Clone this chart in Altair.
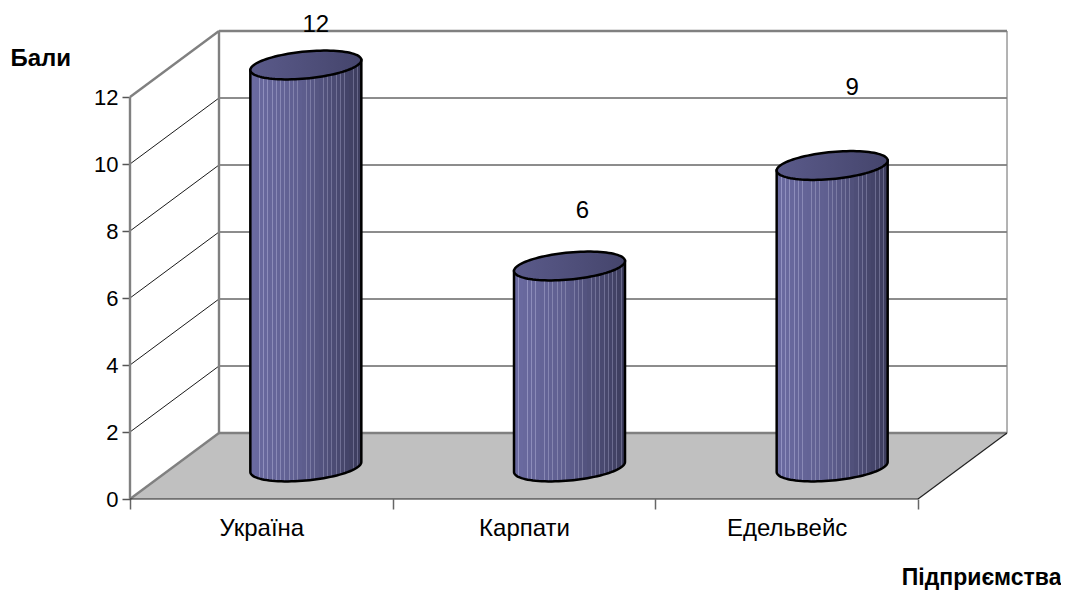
import json
import math
import altair as alt
import pandas as pd

categories = ["Україна", "Карпати", "Едельвейс"]
values = [12, 6, 9]
y_ticks = [0, 2, 4, 6, 8, 10, 12]
label_dx = [10, 13, 20]
label_dy = [-40, -55, -78]

PX_X = 262.67      # pixels per category
PX_Y = 33.5        # pixels per value unit
DX = 89 / PX_X     # depth offset in x units
DY = 66 / PX_Y     # depth offset in y units
N = len(categories)
W = 879
H = 469
FONT = "Liberation Sans"

x_scale = alt.Scale(domain=[0, W / PX_X], range=[0, W], nice=False, zero=False)
y_scale = alt.Scale(domain=[0, H / PX_Y], range=[H, 0], nice=False, zero=False)


def rules(segs, color, width):
    df = pd.DataFrame(segs, columns=["x", "y", "x2", "y2"])
    return alt.Chart(df).mark_rule(color=color, strokeWidth=width, clip=False).encode(
        x=alt.X("x:Q", scale=x_scale),
        y=alt.Y("y:Q", scale=y_scale),
        x2="x2:Q",
        y2="y2:Q",
    )


# floor + real axes
floor_df = pd.DataFrame(
    {
        "x": [0, DX, N, N + DX],
        "y": [0, DY, DY, DY],
        "y2": [0, 0, 0, DY],
    }
)
names = json.dumps(categories, ensure_ascii=False)
floor = alt.Chart(floor_df).mark_area(color="#C0C0C0", interpolate="linear").encode(
    x=alt.X(
        "x:Q",
        scale=x_scale,
        axis=alt.Axis(
            values=[0, 0.5, 1, 1.5, 2, 2.5, 3],
            domain=False,
            grid=False,
            title="Підприємства",
            titleFont=FONT,
            titleFontSize=23,
            titleFontWeight="bold",
            titleColor="#000000",
            titleX=931,
            titleY=85,
            titleAlign="right",
            titleBaseline="alphabetic",
            tickSize=10,
            tickColor="#666666",
            tickWidth=1.5,
            tickOpacity={"condition": {"test": "datum.value % 1 == 0", "value": 1}, "value": 0},
            labelFont=FONT,
            labelFontSize=24,
            labelColor="#000000",
            labelPadding=7,
            labelFlush=False,
            labelOverlap=False,
            labelExpr=f"datum.value % 1 == 0 ? '' : {names}[floor(datum.value)]",
        ),
    ),
    y=alt.Y(
        "y:Q",
        scale=y_scale,
        axis=alt.Axis(
            values=y_ticks,
            domain=False,
            grid=False,
            title="Бали",
            titleFont=FONT,
            titleFontSize=24,
            titleFontWeight="bold",
            titleColor="#000000",
            titleAngle=0,
            titleX=-120,
            titleY=35,
            titleAlign="left",
            titleBaseline="alphabetic",
            tickSize=8,
            tickColor="#555555",
            tickWidth=1.5,
            labelFont=FONT,
            labelFontSize=22,
            labelColor="#000000",
            labelPadding=4,
        ),
    ),
    y2="y2:Q",
)

# gridlines
grid_vals = [v for v in y_ticks if 0 < v < 12]
grid = rules(
    [(0, v, DX, v + DY) for v in grid_vals] + [(DX, v + DY, N + DX, v + DY) for v in grid_vals],
    "#1a1a1a",
    1,
)

top = y_ticks[-1]
walls = rules(
    [
        (DX, DY, DX, top + DY),
        (DX, top + DY, N + DX, top + DY),
        (0, top, DX, top + DY),
        (0, 0, DX, DY),
        (DX, DY, N + DX, DY),
        (0, 0, 0, top),
    ],
    "#808080",
    2.4,
)
right_wall = rules([(N + DX, DY, N + DX, top + DY)], "#808080", 1.2)
front = rules([(0, 0, N, 0), (N, 0, N + DX, DY)], "#222222", 1.2)

# cylinders
RX = 55.5 / PX_X
RY = 13.5 / PX_Y
TILT = 5.0 / PX_Y
T = [math.pi * i / 48 for i in range(49)]


def mix(a, b, f):
    return "#" + "".join(f"{round(a[k] + (b[k] - a[k]) * f):02x}" for k in range(3))


BODY_L = (0x6A, 0x6A, 0xA0)
BODY_R = (0x3A, 0x3A, 0x5A)
stops = []
n_bands = 26
for i in range(n_bands):
    f0, f1 = i / n_bands, (i + 1) / n_bands
    f = 0.55 * f0 if f0 < 0.45 else 0.25 + (f0 - 0.45) * 1.36
    base = mix(BODY_L, BODY_R, f)
    light = mix((0x94, 0x94, 0xC4), (0x66, 0x66, 0x88), f0)
    stops += [
        alt.GradientStop(offset=f0, color=light),
        alt.GradientStop(offset=f0 + 0.2 / n_bands, color=light),
        alt.GradientStop(offset=f0 + 0.2 / n_bands, color=base),
        alt.GradientStop(offset=f1, color=base),
    ]
body_fill = alt.Gradient(gradient="linear", x1=0, x2=1, y1=0, y2=0, stops=stops)
cap_fill = alt.Gradient(
    gradient="linear",
    x1=0,
    x2=1,
    y1=0,
    y2=0,
    stops=[
        alt.GradientStop(offset=0, color="#5A5A8A"),
        alt.GradientStop(offset=1, color="#45456C"),
    ],
)

layers = [floor, grid, walls, right_wall, front]
for i, v in enumerate(values):
    cx = i + 0.5 + DX / 2 + 1 / PX_X * (i > 0)
    base = DY / 2 - 1 / PX_Y
    body = pd.DataFrame(
        {
            "x": [cx + RX * math.cos(t) for t in T],
            "y": [base + v + TILT * math.cos(t) for t in T],
            "y2": [base + TILT * math.cos(t) - RY * math.sin(t) for t in T],
        }
    )
    cap = pd.DataFrame(
        {
            "x": [cx + RX * math.cos(t) for t in T],
            "y": [base + v + TILT * math.cos(t) + RY * math.sin(t) for t in T],
            "y2": [base + v + TILT * math.cos(t) - RY * math.sin(t) for t in T],
        }
    )
    layers.append(
        alt.Chart(body)
        .mark_area(fill=body_fill, stroke="#000000", strokeWidth=2.5, interpolate="linear", clip=False)
        .encode(x=alt.X("x:Q", scale=x_scale), y=alt.Y("y:Q", scale=y_scale), y2="y2:Q")
    )
    layers.append(
        alt.Chart(cap)
        .mark_area(fill=cap_fill, stroke="#000000", strokeWidth=2.5, interpolate="linear", clip=False)
        .encode(x=alt.X("x:Q", scale=x_scale), y=alt.Y("y:Q", scale=y_scale), y2="y2:Q")
    )
    layers.append(
        alt.Chart(pd.DataFrame({"x": [cx], "y": [base + v], "t": [str(v)]}))
        .mark_text(font=FONT, fontSize=24, color="#000000", dx=label_dx[i], dy=label_dy[i])
        .encode(x=alt.X("x:Q", scale=x_scale), y=alt.Y("y:Q", scale=y_scale), text="t:N")
    )

chart = (
    alt.layer(*layers)
    .properties(
        width=W,
        height=H,
        autosize=alt.AutoSizeParams(type="none"),
        padding={"left": 122, "top": 22, "right": 52, "bottom": 95},
        background="#FFFFFF",
    )
    .configure_view(stroke=None)
)
chart.save("out.html", embed_options={"renderer": "svg", "actions": False})
